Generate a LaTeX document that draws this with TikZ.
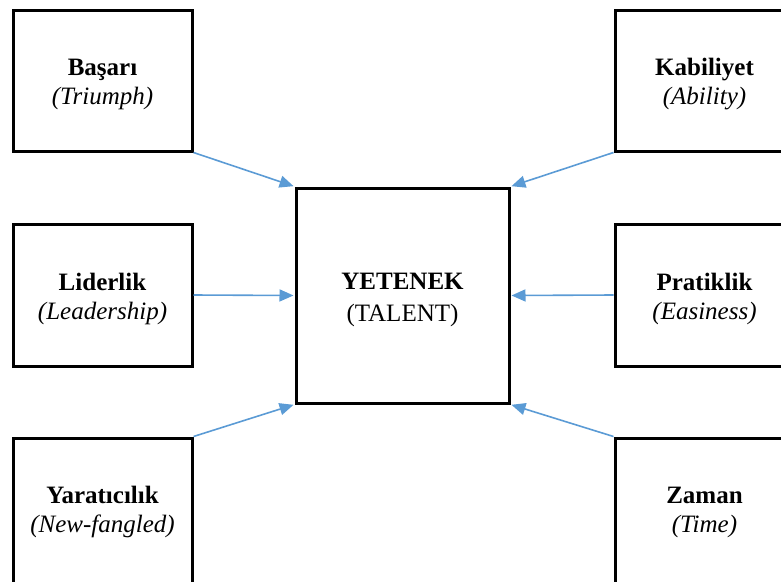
\documentclass[tikz,border=0pt]{standalone}
\usepackage{fontspec}
\setmainfont{Liberation Serif}
\usetikzlibrary{arrows.meta}
\definecolor{arrowblue}{HTML}{5B9BD5}
\tikzset{
  box/.style={draw=black, line width=3pt, fill=none, inner sep=0pt},
  lbl/.style={align=center, font=\fontsize{25}{29}\selectfont, inner sep=0pt},
  conn/.style={draw=arrowblue, line width=1.6pt, -{Triangle[length=14pt,width=12pt]}, shorten >=1pt},
}
\begin{document}
\begin{tikzpicture}[x=1pt,y=-1pt]
\useasboundingbox (0,0) rectangle (781,581);
\clip (0,0) rectangle (781,581);
% boxes
\node[box, minimum width=179pt, minimum height=141pt] (tl) at (102.5,80.5) {};
\node[box, minimum width=179pt, minimum height=142pt] (ml) at (102.5,295) {};
\node[box, minimum width=179pt, minimum height=146pt] (bl) at (102.5,511) {};
\node[box, minimum width=179pt, minimum height=141pt] (tr) at (704.5,80.5) {};
\node[box, minimum width=179pt, minimum height=142pt] (mr) at (704.5,295) {};
\node[box, minimum width=179pt, minimum height=146pt] (br) at (704.5,511) {};
\node[box, minimum width=213pt, minimum height=215pt] (c) at (402.5,295.5) {};
% labels
\node[lbl] (tlt) at (102.5,84) {\textbf{Başarı}\\\textit{(Triumph)}};
\node[lbl] (mlt) at (102.5,299) {\textbf{Liderlik}\\\textit{(Leadership)}};
\node[lbl] (blt) at (102.5,512) {\textbf{Yaratıcılık}\\\textit{(New-fangled)}};
\node[lbl] (trt) at (704.5,84) {\textbf{Kabiliyet}\\\textit{(Ability)}};
\node[lbl] (mrt) at (704.5,299) {\textbf{Pratiklik}\\\textit{(Easiness)}};
\node[lbl] (brt) at (704.5,512) {\textbf{Zaman}\\\textit{(Time)}};
\node[lbl, font=\fontsize{25}{32}\selectfont] (ct) at (402.5,300) {\textbf{YETENEK}\\(TALENT)};
% connectors
\draw[conn] (tl.south east) -- (c.north west);
\draw[conn] (ml.east) -- (c.west);
\draw[conn] (bl.north east) -- (c.south west);
\draw[conn] (tr.south west) -- (c.north east);
\draw[conn] (mr.west) -- (c.east);
\draw[conn] (br.north west) -- (c.south east);
\end{tikzpicture}
\end{document}
